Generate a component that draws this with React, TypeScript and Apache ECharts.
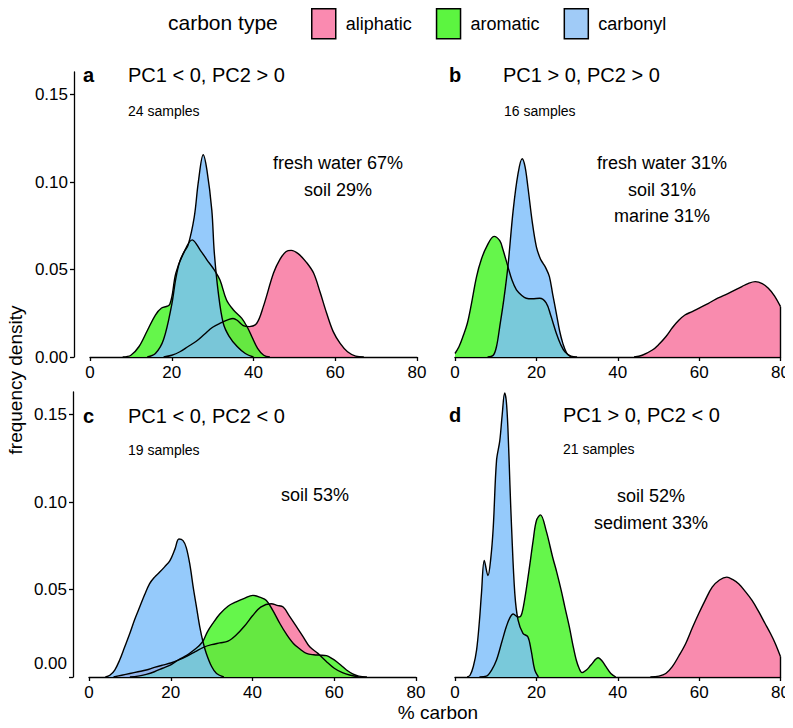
import React, { useEffect, useRef } from 'react';
import * as echarts from 'echarts';

type Pt = [number, number];

const carbonTypes = ['aliphatic', 'aromatic', 'carbonyl'];
const xTicks = [0, 20, 40, 60, 80];
const yTicks = [0, 0.05, 0.1, 0.15];
const panelLetters = ['a', 'b', 'c', 'd'];
const panelTitles = ['PC1 < 0, PC2 > 0', 'PC1 > 0, PC2 > 0', 'PC1 < 0, PC2 < 0', 'PC1 > 0, PC2 < 0'];
const sampleCounts = [24, 16, 19, 21];
const panelNotes = [
  ['fresh water 67%', 'soil 29%'],
  ['fresh water 31%', 'soil 31%', 'marine 31%'],
  ['soil 53%'],
  ['soil 52%', 'sediment 33%'],
];

// panel a: PC1 < 0, PC2 > 0
const aAliphatic: Pt[] = [[18, 0], [20, 0.001], [22, 0.003], [24, 0.006], [26, 0.009], [28, 0.013], [30, 0.017], [32, 0.0195], [34, 0.0215], [35, 0.022], [36, 0.021], [37.5, 0.018], [39, 0.0174], [40.8, 0.0193], [42.4, 0.0288], [44.9, 0.048], [46.5, 0.056], [48, 0.0603], [49.2, 0.061], [51, 0.059], [53, 0.054], [54.7, 0.048], [56.3, 0.037], [57.9, 0.025], [59.5, 0.0145], [61.2, 0.0078], [63, 0.003], [65, 0.0005], [67, 0]];
const aAromatic: Pt[] = [[8, 0], [10, 0.001], [12, 0.006], [14, 0.015], [16, 0.024], [17.5, 0.028], [19.5, 0.03], [21, 0.048], [23, 0.06], [25, 0.067], [27, 0.061], [28.6, 0.0556], [30.4, 0.0498], [31.8, 0.044], [33.4, 0.0326], [35.1, 0.0269], [37.1, 0.0222], [38.5, 0.017], [39.6, 0.0116], [41, 0.005], [42.5, 0.001], [44, 0]];
const aCarbonyl: Pt[] = [[14, 0], [16, 0.002], [18, 0.01], [20, 0.03], [21, 0.045], [22, 0.055], [23, 0.06], [24, 0.064], [25.5, 0.08], [26.5, 0.1], [27.7, 0.1157], [28.6, 0.107], [29.8, 0.084], [30.4, 0.06], [31.4, 0.0365], [32.6, 0.0193], [34, 0.012], [36, 0.006], [38, 0.002], [40, 0]];

// panel b: PC1 > 0, PC2 > 0
const bAliphatic: Pt[] = [[44, 0], [46, 0.001], [48.5, 0.004], [50, 0.007], [51.8, 0.0116], [53.5, 0.017], [55, 0.021], [56.5, 0.024], [58.3, 0.026], [60, 0.028], [62.3, 0.0307], [64, 0.033], [66.4, 0.0355], [68.5, 0.038], [70.5, 0.0403], [72, 0.042], [73.8, 0.0431], [75.5, 0.042], [77, 0.0393], [78.5, 0.035], [80, 0.0288]];
const bAromatic: Pt[] = [[0, 0.002], [1, 0.006], [2, 0.012], [3, 0.019], [4, 0.03], [5.3, 0.046], [6.5, 0.056], [7.75, 0.063], [9.6, 0.069], [11, 0.0665], [11.8, 0.0613], [13, 0.0517], [14, 0.044], [15.1, 0.0384], [16.5, 0.035], [17.5, 0.0336], [19, 0.0333], [20.8, 0.0336], [22.4, 0.031], [23.5, 0.024], [24.9, 0.0136], [26, 0.007], [27, 0.003], [28.5, 0.0005], [30, 0]];
const bCarbonyl: Pt[] = [[8, 0], [9.4, 0.001], [10.2, 0.006], [11, 0.0174], [12, 0.033], [13, 0.0517], [14.3, 0.084], [15.5, 0.105], [16.5, 0.1134], [17.2, 0.109], [17.9, 0.0975], [19, 0.077], [20, 0.063], [21, 0.056], [21.6, 0.0537], [22.3, 0.051], [23.2, 0.046], [24, 0.036], [24.9, 0.025], [25.7, 0.015], [26.5, 0.0078], [27.5, 0.002], [28.5, 0]];

// panel c: PC1 < 0, PC2 < 0
const cAliphatic: Pt[] = [[6, 0], [8, 0.001], [10, 0.002], [12, 0.003], [14, 0.004], [16, 0.0055], [18, 0.0068], [20, 0.008], [22, 0.0098], [24, 0.012], [26, 0.0145], [28, 0.017], [30, 0.0185], [32, 0.0195], [34, 0.0205], [36, 0.024], [38, 0.029], [40, 0.035], [42, 0.04], [44.6, 0.0419], [46, 0.041], [47.5, 0.04], [49, 0.035], [50.8, 0.0287], [52.4, 0.023], [54, 0.0173], [56, 0.0135], [58, 0.009], [60, 0.005], [62, 0.0025], [64, 0.001], [66, 0]];
const cAromatic: Pt[] = [[10, 0], [12, 0.0005], [14, 0.0015], [16, 0.003], [18, 0.005], [20, 0.007], [22, 0.01], [24, 0.0125], [26, 0.016], [27, 0.018], [28, 0.021], [29, 0.026], [30.4, 0.031], [32, 0.036], [34, 0.0405], [36, 0.043], [38, 0.045], [40.1, 0.0467], [42, 0.0455], [43.4, 0.0438], [45, 0.038], [46.7, 0.0306], [48.3, 0.0245], [50, 0.0192], [51.6, 0.016], [53.2, 0.0135], [55, 0.0127], [56.5, 0.0125], [58.1, 0.0122], [59.5, 0.0105], [60.6, 0.0087], [62, 0.006], [63, 0.004], [64.5, 0.0018], [66, 0.0005], [68, 0]];
const cCarbonyl: Pt[] = [[4, 0], [5.1, 0.001], [6.3, 0.004], [7.5, 0.0097], [8.7, 0.017], [10, 0.025], [11.2, 0.033], [12.4, 0.04], [13.6, 0.047], [14.8, 0.0533], [16, 0.057], [17.3, 0.06], [18.5, 0.063], [19.8, 0.0666], [21, 0.073], [22, 0.0789], [23, 0.078], [23.8, 0.074], [24.7, 0.064], [25.5, 0.0513], [26.3, 0.04], [27.1, 0.0287], [27.9, 0.02], [28.7, 0.0135], [30, 0.006], [31.2, 0.002], [33, 0]];

// panel d: PC1 > 0, PC2 < 0
const dAliphatic: Pt[] = [[48, 0], [50.1, 0.0005], [51.8, 0.002], [53.4, 0.0059], [55, 0.012], [56.7, 0.0192], [58.3, 0.028], [59.9, 0.0363], [61.5, 0.044], [63.2, 0.0514], [65, 0.0555], [66.8, 0.0571], [68.2, 0.0558], [69.7, 0.0533], [71.3, 0.049], [73, 0.0438], [74.6, 0.0375], [76.2, 0.0306], [77.5, 0.025], [78.7, 0.0192], [80, 0.0116]];
const dAromatic: Pt[] = [[6, 0], [7.7, 0.0005], [9, 0.004], [10.2, 0.0097], [11.5, 0.02], [12.6, 0.0287], [13.5, 0.034], [14.3, 0.036], [15.5, 0.0343], [16.2, 0.035], [16.7, 0.039], [17.5, 0.05], [18.3, 0.0628], [19.2, 0.078], [20, 0.0894], [21, 0.0927], [22.4, 0.0837], [24, 0.0685], [25, 0.06], [26.1, 0.0495], [27, 0.04], [28.1, 0.0287], [29, 0.018], [29.8, 0.0097], [30.5, 0.005], [31.2, 0.0025], [32.3, 0.004], [33.4, 0.0068], [35.2, 0.011], [36.2, 0.009], [37.1, 0.0059], [38.3, 0.002], [39.5, 0]];
const dCarbonyl: Pt[] = [[3, 0], [3.7, 0.001], [4.5, 0.006], [5.3, 0.0154], [6, 0.032], [6.5, 0.0477], [7.2, 0.0666], [8.1, 0.058], [8.8, 0.068], [9.4, 0.0856], [10.2, 0.1236], [11, 0.135], [11.6, 0.15], [12.2, 0.1625], [12.6, 0.158], [13, 0.1425], [13.5, 0.11], [13.9, 0.0856], [14.7, 0.0477], [15.5, 0.0325], [16.7, 0.025], [17.9, 0.023], [18.7, 0.0154], [19.6, 0.004], [20.5, 0]];

const panelData: Pt[][][] = [
  [aAliphatic, aAromatic, aCarbonyl],
  [bAliphatic, bAromatic, bCarbonyl],
  [cAliphatic, cAromatic, cCarbonyl],
  [dAliphatic, dAromatic, dCarbonyl],
];

const FONT = '"Liberation Sans", Arial, Helvetica, sans-serif';
const fillColors = ['#F53E78', '#50F532', '#7EBEFA'];
const fillOpacity = [0.6, 0.88, 0.82];
const legendColors = ['#FA8AB0', '#5CF540', '#A0CBF7'];

const panelBoxes = [
  { left: 90, top: 72 },
  { left: 455, top: 72 },
  { left: 89, top: 392 },
  { left: 455, top: 392 },
];
const letterPos = [[83, 75], [449, 75], [83, 416], [449, 415]];
const titlePos = [[128, 75], [503, 75], [128, 416], [563, 415]];
const samplePos = [[128, 111], [504, 111], [128, 450], [563, 449]];
const notePos = [[338, 163], [662, 163], [315, 495], [651, 496]];

export default function App() {
  const ref = useRef<HTMLDivElement>(null);
  useEffect(() => {
    if (!ref.current) return;
    const chart = echarts.init(ref.current, null, { renderer: 'svg' });

    const grids = panelBoxes.map((p) => ({ left: p.left, top: p.top, width: 327, height: 285 }));
    const xAxes = panelBoxes.map((_, i) => ({
      type: 'value',
      gridIndex: i,
      min: 0,
      max: 80,
      interval: 20,
      axisLine: { show: true, onZero: false, lineStyle: { color: '#000', width: 1.3 } },
      axisTick: { show: true, length: 4, lineStyle: { color: '#000', width: 1.3 }, customValues: xTicks },
      axisLabel: { color: '#000', fontSize: 17, fontFamily: FONT, margin: 7, customValues: xTicks },
      splitLine: { show: false },
    }));
    const yAxes = panelBoxes.map((_, i) => {
      const showAxis = i === 0 || i === 2;
      return {
        type: 'value',
        gridIndex: i,
        min: 0,
        max: 0.163,
        show: showAxis,
        offset: 16,
        axisLine: { show: true, onZero: false, lineStyle: { color: '#000', width: 1.3 } },
        axisTick: { show: true, length: 4, lineStyle: { color: '#000', width: 1.3 }, customValues: yTicks },
        axisLabel: {
          color: '#000',
          fontSize: 17,
          fontFamily: FONT,
          margin: 6,
          customValues: yTicks,
          formatter: (v: number) => (i === 2 && v === 0 ? '{up|0.00}' : v.toFixed(2)),
          rich: { up: { fontSize: 17, fontFamily: FONT, color: '#000', padding: [0, 0, 28, 0] } },
        },
        splitLine: { show: false },
      };
    });

    const series: any[] = [];
    panelData.forEach((group, i) => {
      group.forEach((data, j) => {
        const last = data[data.length - 1];
        const s: any = {
          type: 'line',
          name: carbonTypes[j],
          xAxisIndex: i,
          yAxisIndex: i,
          data,
          smooth: 0.35,
          symbol: 'none',
          silent: true,
          lineStyle: { color: '#000', width: 1.4 },
          itemStyle: { color: legendColors[j] },
          areaStyle: { color: fillColors[j], opacity: fillOpacity[j] },
        };
        if (last[0] === 80 && last[1] > 0.001) {
          s.markLine = {
            silent: true,
            symbol: ['none', 'none'],
            label: { show: false },
            lineStyle: { color: '#000', width: 1.4, type: 'solid' },
            data: [[{ coord: [80, 0] }, { coord: [80, last[1]] }]],
          };
        }
        series.push(s);
      });
    });

    const graphic: any[] = [
      {
        type: 'text', x: 168, y: 22,
        style: { text: 'carbon type', fontSize: 21, fontFamily: FONT, fill: '#000', textAlign: 'left', textVerticalAlign: 'middle' },
      },
      {
        type: 'text', x: 15, y: 380, rotation: Math.PI / 2,
        style: { text: 'frequency density', fontSize: 19, fontFamily: FONT, fill: '#000', textAlign: 'center', textVerticalAlign: 'middle' },
      },
      {
        type: 'text', x: 438, y: 712,
        style: { text: '% carbon', fontSize: 19, fontFamily: FONT, fill: '#000', textAlign: 'center', textVerticalAlign: 'middle' },
      },
    ];
    panelLetters.forEach((l, i) => {
      graphic.push({
        type: 'text', x: letterPos[i][0], y: letterPos[i][1],
        style: { text: l, fontSize: 20, fontWeight: 'bold', fontFamily: FONT, fill: '#000', textAlign: 'left', textVerticalAlign: 'middle' },
      });
      graphic.push({
        type: 'text', x: titlePos[i][0], y: titlePos[i][1],
        style: { text: panelTitles[i], fontSize: 20, fontFamily: FONT, fill: '#000', textAlign: 'left', textVerticalAlign: 'middle' },
      });
      graphic.push({
        type: 'text', x: samplePos[i][0], y: samplePos[i][1],
        style: { text: `${sampleCounts[i]} samples`, fontSize: 14, fontFamily: FONT, fill: '#000', textAlign: 'left', textVerticalAlign: 'middle' },
      });
      panelNotes[i].forEach((n, k) => {
        graphic.push({
          type: 'text', x: notePos[i][0], y: notePos[i][1] + k * 26.5,
          style: { text: n, fontSize: 18, fontFamily: FONT, fill: '#000', textAlign: 'center', textVerticalAlign: 'middle' },
        });
      });
    });

    chart.setOption({
      animation: false,
      backgroundColor: '#fff',
      textStyle: { fontFamily: FONT },
      legend: {
        left: 306,
        top: 3,
        itemWidth: 24,
        itemHeight: 30,
        itemGap: 24,
        icon: 'rect',
        selectedMode: false,
        textStyle: { fontSize: 18, color: '#000', fontFamily: FONT, padding: [0, 0, 0, 5] },
        data: carbonTypes.map((n, j) => ({
          name: n,
          icon: 'rect',
          itemStyle: { color: legendColors[j], borderColor: '#000', borderWidth: 1.5, opacity: 1 },
        })),
      },
      grid: grids,
      xAxis: xAxes,
      yAxis: yAxes,
      series,
      graphic,
    });
    return () => chart.dispose();
  }, []);
  return <div ref={ref} style={{ width: 793, height: 728, margin: -8 }} />;
}
